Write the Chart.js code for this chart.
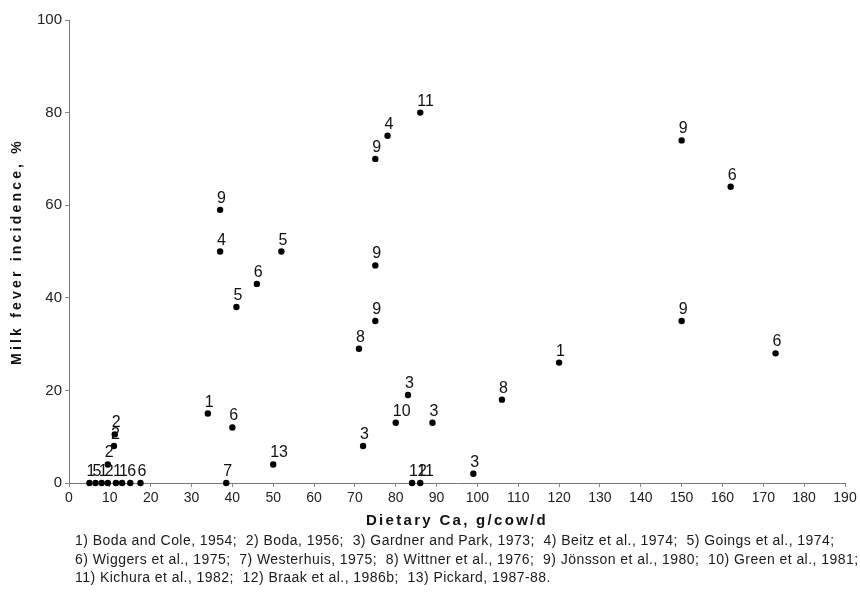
<!DOCTYPE html>
<html>
<head>
<meta charset="utf-8">
<script src="https://cdn.jsdelivr.net/npm/chart.js@4"></script>
<style>
  html, body { margin: 0; padding: 0; background: #fff; }
  #wrap { position: relative; width: 860px; height: 598px; }
  #refs {
    position: absolute; left: 75px; top: 531px;
    font: 14px "Liberation Sans", Arial, sans-serif;
    letter-spacing: 0.45px;
    line-height: 18.5px; color: #1a1a1a; white-space: pre;
  }
</style>
</head>
<body>
<div id="wrap">
  <canvas id="chart" width="860" height="598"></canvas>
  <div id="refs"></div>
</div>
<script>
/* Milk fever incidence vs dietary Ca — scatter, each point tagged with its study number */

// ── Data ───────────────────────────────────────────────────────
const caIntake  = [5, 6.5, 8, 9.5, 11.5, 13, 15, 17.5, 11.2, 11, 9.5,
                   34, 40, 38.5, 50, 37, 37, 52, 46, 41,
                   75, 78, 86, 75, 75, 71, 83, 72, 80, 89, 99, 84, 86,
                   106, 120, 150, 162, 150, 173];
const incidence = [0, 0, 0, 0, 0, 0, 0, 0, 10.5, 8, 4,
                   15, 12, 0, 4, 59, 50, 50, 43, 38,
                   70, 75, 80, 47, 35, 29, 19, 8, 13, 13, 2, 0, 0,
                   18, 26, 74, 64, 35, 28];
const study     = [1, 5, 1, 2, 1, 1, 6, 6, 2, 2, 2,
                   1, 6, 7, 13, 9, 4, 5, 6, 5,
                   9, 4, 11, 9, 9, 8, 3, 3, 10, 3, 3, 12, 11,
                   8, 1, 9, 6, 9, 6];
const references = ['Boda and Cole, 1954', 'Boda, 1956', 'Gardner and Park, 1973',
                    'Beitz et al., 1974', 'Goings et al., 1974', 'Wiggers et al., 1975',
                    'Westerhuis, 1975', 'Wittner et al., 1976', 'Jönsson et al., 1980',
                    'Green et al., 1981', 'Kichura et al., 1982', 'Braak et al., 1986b',
                    'Pickard, 1987-88'];
const xTitle = 'Dietary Ca, g/cow/d';
const yTitle = 'Milk fever incidence, %';

const family = '"Liberation Sans", Arial, Helvetica, sans-serif';
const ink = '#111';

// ── Reference list under the chart ─────────────────────────────
const refItems = references.map((r, i) => `${i + 1}) ${r}${i === references.length - 1 ? '.' : ';'}`);
document.getElementById('refs').textContent =
  [refItems.slice(0, 5), refItems.slice(5, 10), refItems.slice(10)].map(l => l.join('  ')).join('\n');

// ── Plugins ────────────────────────────────────────────────────
const pointLabels = {
  id: 'pointLabels',
  afterDatasetsDraw(chart) {
    const { ctx } = chart;
    ctx.save();
    ctx.font = `16px ${family}`;
    ctx.fillStyle = ink;
    ctx.textAlign = 'left';
    ctx.textBaseline = 'alphabetic';
    chart.getDatasetMeta(0).data.forEach((pt, i) => {
      ctx.fillText(String(study[i]), pt.x - 3, pt.y - 7);
    });
    ctx.restore();
  },
};

// axis titles drawn by hand so they can be letter-spaced like the original
const axisTitles = {
  id: 'axisTitles',
  afterDraw(chart) {
    const { ctx, chartArea: a } = chart;
    ctx.save();
    ctx.fillStyle = ink;
    ctx.textAlign = 'center';
    ctx.textBaseline = 'middle';
    ctx.font = `bold 15px ${family}`;
    ctx.letterSpacing = '2.3px';
    ctx.fillText(xTitle, (a.left + a.right) / 2, a.bottom + 38);
    ctx.translate(17, (a.top + a.bottom) / 2);
    ctx.rotate(-Math.PI / 2);
    ctx.font = `bold 14px ${family}`;
    ctx.letterSpacing = '3.2px';
    ctx.fillText(yTitle, 0, 0);
    ctx.restore();
  },
};

// ── Chart ──────────────────────────────────────────────────────
new Chart(document.getElementById('chart'), {
  type: 'scatter',
  data: {
    datasets: [{
      data: caIntake.map((x, i) => ({ x, y: incidence[i] })),
      backgroundColor: '#000',
      borderWidth: 0,
      pointRadius: 3.2,
      clip: false,
    }],
  },
  options: {
    responsive: false,
    animation: false,
    devicePixelRatio: 1,
    layout: { padding: { left: 0, top: 20, right: 15, bottom: 0 } },
    plugins: { legend: { display: false }, tooltip: { enabled: false } },
    scales: {
      x: {
        type: 'linear', min: 0, max: 190,
        ticks: { stepSize: 10, autoSkip: false, maxRotation: 0, color: '#222', padding: 3,
                 font: { size: 14, family } },
        grid: { drawOnChartArea: false, tickLength: 4, color: '#888' },
        border: { color: '#777', dash: [1, 1] },
        afterFit(s) { s.height = 115; },
      },
      y: {
        min: 0, max: 100,
        ticks: { stepSize: 20, color: '#222', padding: 3, font: { size: 15, family } },
        grid: { drawOnChartArea: false, tickLength: 4, color: '#888' },
        border: { color: '#777', dash: [1, 1] },
        afterFit(s) { s.width = 69; },
      },
    },
  },
  plugins: [pointLabels, axisTitles],
});
</script>
</body>
</html>
